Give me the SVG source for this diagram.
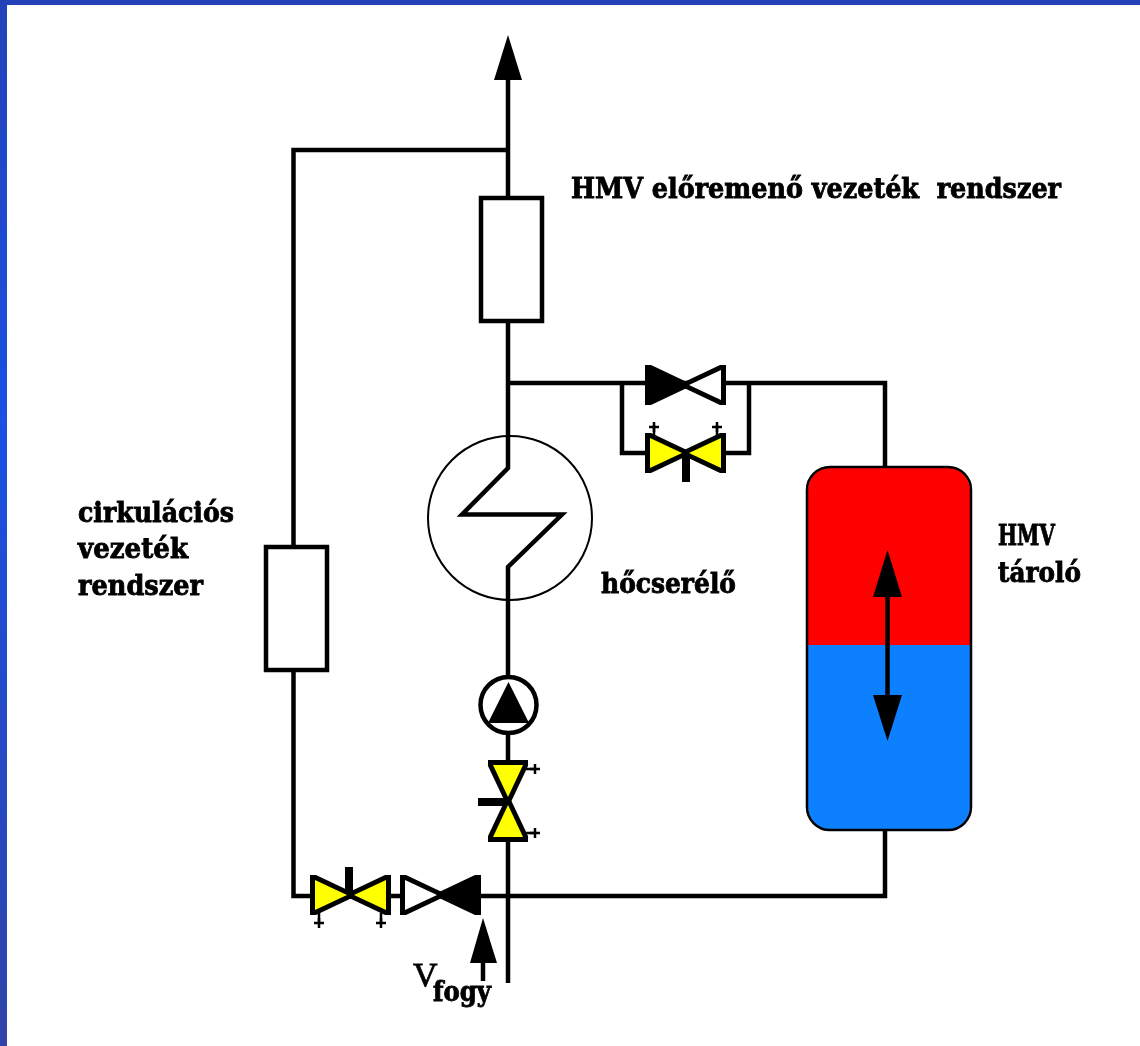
<svg xmlns="http://www.w3.org/2000/svg" width="1140" height="1046" viewBox="0 0 1140 1046">
<style>
.p{fill:none;stroke:#000;stroke-width:4.500}
.b{fill:#fff;stroke:#000;stroke-width:4.500}
.t{fill:#000;stroke:none}
.l{font-family:"DejaVu Serif",serif;font-weight:bold;font-size:28px;fill:#000;stroke:#000;stroke-width:.9}
</style>
<defs>
<linearGradient id="side" x1="0" y1="0" x2="0" y2="1"><stop offset="0" stop-color="#2342b8"/><stop offset=".4" stop-color="#1a50e4"/><stop offset="1" stop-color="#3043a8"/></linearGradient>
<filter id="soft" x="0" y="0" width="1" height="1"><feGaussianBlur stdDeviation=".7"/></filter>
<g id="plus"><path d="M-5 0H5M0 -5V5" stroke="#000" stroke-width="2.500" fill="none"/></g>
<polygon id="outer" points="0,-20 6,-20 44,-2 44,2 6,20 0,20" fill="#000"/>
<g id="half-k"><use href="#outer"/></g>
<g id="half-y"><use href="#outer"/><polygon points="5,-15 5,15 37,0" fill="#ff0"/></g>
<g id="half-w"><use href="#outer"/><polygon points="5,-15 5,15 37,0" fill="#fff"/></g>
</defs>
<rect width="1140" height="1046" fill="#fff"/>
<rect id="frame-top" width="1140" height="5" fill="#2342b8"/>
<rect id="frame-left" width="7" height="1046" fill="url(#side)"/>
<g filter="url(#soft)">
<g id="connectors">
<path class="p" d="M508 75V468L462 514.500H562L508 567V690"/>
<path class="p" d="M508 730V983"/>
<path class="p" d="M508 150H293.500V896H885V830"/>
<path class="p" d="M508 383H885V467"/>
<path class="p" d="M622 383V453H749V383"/>
<path class="p" d="M483 955V981"/>
</g>
<g id="top-arrow"><polygon class="t" points="508,35 494,80 522,80"/></g>
<g id="fogy-arrow"><polygon class="t" points="483,918 470,963 497,963"/></g>
<g id="hmv-element"><rect class="b" x="481" y="198" width="61" height="123"/></g>
<g id="circ-element"><rect class="b" x="266" y="547" width="61" height="123"/></g>
<g id="heat-exchanger"><circle cx="510" cy="518" r="82" fill="none" stroke="#000" stroke-width="2"/></g>
<g id="tank">
<path d="M831 467H947A23 23 0 0 1 970 490V645H808V490A23 23 0 0 1 831 467Z" fill="#f00"/>
<path d="M808 645H970V807A23 23 0 0 1 947 830H831A23 23 0 0 1 808 807Z" fill="#0a80ff"/>
<rect x="807" y="467" width="164" height="363" rx="23" fill="none" stroke="#000" stroke-width="2.500"/>
<path d="M887.500 590V700" stroke="#000" stroke-width="4.500"/>
<polygon class="t" points="887.500,550 873,597 902,597"/>
<polygon class="t" points="887.500,741 873,695 902,695"/>
</g>
<g id="pump">
<circle cx="508.500" cy="705" r="28" class="b"/>
<polygon class="t" points="508.500,682 488,723 529,723"/>
</g>
<g id="valve-vertical">
<path d="M478 802H508" stroke="#000" stroke-width="8"/>
<use href="#half-y" transform="translate(508,760) rotate(90)"/>
<use href="#half-y" transform="translate(508,842) rotate(-90)"/>
<path d="M526 769H535M526 833H535" stroke="#000" stroke-width="2.500"/>
<use href="#plus" x="535" y="769"/><use href="#plus" x="535" y="833"/>
</g>
<g id="valve-bottom">
<path d="M349 867V895" stroke="#000" stroke-width="8"/>
<use href="#half-y" transform="translate(310,895)"/>
<use href="#half-y" transform="translate(391,895) rotate(180)"/>
<path d="M319 913V923M381 913V923" stroke="#000" stroke-width="2.500"/>
<use href="#plus" x="319" y="923"/><use href="#plus" x="381" y="923"/>
</g>
<g id="check-bottom">
<use href="#half-w" transform="translate(400,895)"/>
<use href="#half-k" transform="translate(481,895) rotate(180)"/>
</g>
<g id="check-top">
<use href="#half-k" transform="translate(645,385)"/>
<use href="#half-w" transform="translate(726,385) rotate(180)"/>
</g>
<g id="valve-top">
<path d="M686 453V482" stroke="#000" stroke-width="8"/>
<use href="#half-y" transform="translate(645,453)"/>
<use href="#half-y" transform="translate(726,453) rotate(180)"/>
<path d="M654 436V425M717 436V425" stroke="#000" stroke-width="2.500"/>
<use href="#plus" x="654" y="427"/><use href="#plus" x="717" y="427"/>
</g>
<g id="labels">
<text class="l" x="571" y="198" textLength="490" lengthAdjust="spacingAndGlyphs" xml:space="preserve">HMV előremenő vezeték  rendszer</text>
<text class="l" x="78" y="522" textLength="156" lengthAdjust="spacingAndGlyphs">cirkulációs</text>
<text class="l" x="78" y="558" textLength="110" lengthAdjust="spacingAndGlyphs">vezeték</text>
<text class="l" x="78" y="595" textLength="125" lengthAdjust="spacingAndGlyphs">rendszer</text>
<text class="l" x="601" y="593" textLength="135" lengthAdjust="spacingAndGlyphs">hőcserélő</text>
<text class="l" x="998" y="545" textLength="57" lengthAdjust="spacingAndGlyphs">HMV</text>
<text class="l" x="998" y="582" textLength="83" lengthAdjust="spacingAndGlyphs">tároló</text>
<text x="413" y="986" font-family="'Liberation Serif',serif" font-size="34" fill="#000" stroke="#000" stroke-width=".8">V</text>
<text class="l" x="433" y="1001" textLength="58" lengthAdjust="spacingAndGlyphs">fogy</text>
</g>
</g>
</svg>
